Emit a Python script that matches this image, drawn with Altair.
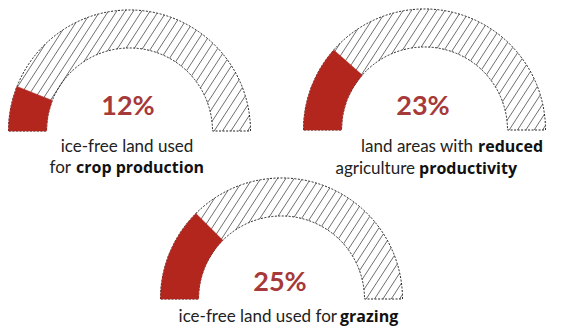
import numpy as np
import pandas as pd
import altair as alt

# ---------------- data ----------------
values = [12, 23, 25]
pct_labels = ["12%", "23%", "25%"]
line1_normal = ["ice-free land used", "land areas with", "ice-free land used for"]
line1_bold = ["", "reduced", "grazing"]
line2_normal = ["for", "agriculture", ""]
line2_bold = ["crop production", "productivity", ""]

# ---------------- layout (page pixel coords) ----------------
centers_x = [129.5, 424.5, 281.5]
centers_y = [131, 130, 299]
R_OUT, R_IN = 121, 83
pct_y = [115, 115, 291]
pct_x = [128, 423, 280]
l1_y = [152, 152, 322]
l2_y = [173, 174, None]
# x of end of the regular part and start of the bold part of each line
l1_split = [None, (473, 478), (337, 340)]
l1_center = [127, None, None]
l2_split = [(71, 76), (415, 419), None]

RED = "#b3261e"
PCT_COLOR = "#a63a3a"
FONT = "Lato"
BOLD_FONT = "Open Sans"
FS = 17

# ---------------- frames ----------------
g = pd.DataFrame({"cx": centers_x, "cy": centers_y, "v": values})
g["t0"] = -np.pi / 2
g["t1"] = np.pi / 2
g["r1"] = -np.pi / 2 + g["v"] / 100 * np.pi

# hatch segments inside each semicircular band (decoration)
ang = np.deg2rad(57)
d = np.array([np.cos(ang), -np.sin(ang)])
nrm = np.array([np.sin(ang), np.cos(ang)])
segs = []
for cx, cy in zip(centers_x, centers_y):
    ctr = np.array([cx, cy])
    for c in np.arange(-R_OUT + 3, R_OUT, 7.0):
        To = np.sqrt(R_OUT**2 - c**2)
        if abs(c) < R_IN:
            Ti = np.sqrt(R_IN**2 - c**2)
            ivs = [(-To, -Ti), (Ti, To)]
        else:
            ivs = [(-To, To)]
        tmin = c / np.tan(ang)
        for a, b in ivs:
            a = max(a, tmin)
            if a < b:
                p1 = ctr + c * nrm + a * d
                p2 = ctr + c * nrm + b * d
                segs.append({"x": p1[0], "y": p1[1], "x2": p2[0], "y2": p2[1]})
hatch = pd.DataFrame(segs)

pct = pd.DataFrame({"x": pct_x, "y": pct_y, "t": pct_labels})

center_rows, right_rows, bold_rows = [], [], []
for i in range(3):
    if l1_center[i] is not None:
        center_rows.append({"x": l1_center[i], "y": l1_y[i], "t": line1_normal[i]})
    if l1_split[i] is not None:
        right_rows.append({"x": l1_split[i][0], "y": l1_y[i], "t": line1_normal[i]})
        bold_rows.append({"x": l1_split[i][1], "y": l1_y[i], "t": line1_bold[i]})
    if l2_split[i] is not None:
        right_rows.append({"x": l2_split[i][0], "y": l2_y[i], "t": line2_normal[i]})
        bold_rows.append({"x": l2_split[i][1], "y": l2_y[i], "t": line2_bold[i]})
center_df = pd.DataFrame(center_rows)
right_df = pd.DataFrame(right_rows)
bold_df = pd.DataFrame(bold_rows)

# ---------------- scales ----------------
xs = alt.Scale(domain=[8, 558], nice=False, zero=False)
ys = alt.Scale(domain=[8, 327], reverse=True, nice=False, zero=False)
X = lambda f: alt.X(f, type="quantitative", scale=xs, axis=None)
Y = lambda f: alt.Y(f, type="quantitative", scale=ys, axis=None)

hatch_layer = alt.Chart(hatch).mark_rule(stroke="#4a4a4a", strokeWidth=0.8).encode(
    x=X("x"), y=Y("y"), x2="x2", y2="y2"
)

outline = alt.Chart(g).mark_arc(
    outerRadius=R_OUT, innerRadius=R_IN, fillOpacity=0,
    stroke="#222222", strokeWidth=1, strokeDash=[2, 1.5]
).encode(
    x=X("cx"), y=Y("cy"),
    theta=alt.Theta("t0:Q", scale=None, stack=None), theta2="t1"
)

red = alt.Chart(g).mark_arc(
    outerRadius=R_OUT, innerRadius=R_IN, fill=RED, stroke=RED, strokeWidth=0.5
).encode(
    x=X("cx"), y=Y("cy"),
    theta=alt.Theta("t0:Q", scale=None, stack=None), theta2="r1"
)

pct_layer = alt.Chart(pct).mark_text(
    font=FONT, fontSize=27, fontWeight="bold", color=PCT_COLOR,
    align="center", baseline="alphabetic"
).encode(x=X("x"), y=Y("y"), text="t:N")

center_layer = alt.Chart(center_df).mark_text(
    font=FONT, fontSize=FS, color="#222222", align="center", baseline="alphabetic"
).encode(x=X("x"), y=Y("y"), text="t:N")

right_layer = alt.Chart(right_df).mark_text(
    font=FONT, fontSize=FS, color="#222222", align="right", baseline="alphabetic"
).encode(x=X("x"), y=Y("y"), text="t:N")

bold_layer = alt.Chart(bold_df).mark_text(
    font=BOLD_FONT, fontSize=16, fontWeight="bold", color="#111111",
    align="left", baseline="alphabetic"
).encode(x=X("x"), y=Y("y"), text="t:N")

chart = alt.layer(
    hatch_layer, outline, red, pct_layer, center_layer, right_layer, bold_layer
).properties(
    width=550, height=319, padding=0, autosize=alt.AutoSizeParams(type="none"),
    background="white"
).configure_view(stroke=None)

chart.save("out.html", embed_options={"renderer": "svg", "actions": False})
